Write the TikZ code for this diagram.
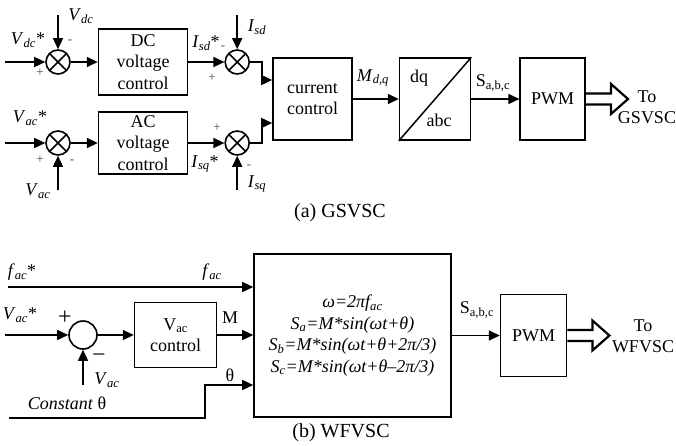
\documentclass[tikz,border=0pt]{standalone}
\usepackage{fontspec}
\setmainfont{Liberation Serif}
\usetikzlibrary{positioning,arrows.meta,calc}
\newcommand{\isub}[2]{\textit{#1}\textsubscript{\textit{#2}}}
\tikzset{
  >={Triangle[length=11pt,width=10pt]},
  every node/.style={font=\fontsize{18}{21.5}\selectfont, inner sep=0pt},
  blk/.style={draw, line width=1.6pt, align=center},
  sumx/.style={draw, circle, line width=1.6pt, minimum size=24pt,
    path picture={\draw[line width=1.5pt] (path picture bounding box.north west) -- (path picture bounding box.south east)
      (path picture bounding box.south west) -- (path picture bounding box.north east);}},
  sumo/.style={draw, circle, line width=1.6pt, minimum size=28pt},
  flow/.style={->, line width=1.5pt},
  sgn/.style={font=\fontsize{13}{13}\selectfont, text=black!70},
  bigsgn/.style={font=\fontsize{24}{24}\selectfont},
  fat/.style={line width=2.2pt, line join=miter},
  capt/.style={font=\fontsize{20}{24}\selectfont},
}

\begin{document}
\begin{tikzpicture}[x=1pt,y=-1pt]
  \useasboundingbox (0,0) rectangle (676,445);

  % (a) GSVSC
  \node[sumx] (s1) at (58,62) {};
  \node[blk, right=27pt of s1, minimum width=89pt, minimum height=66pt] (dcv) {DC\\voltage\\control};
  \node[sumx, right=36pt of dcv] (s2) {};
  \node[sumx] (s3) at (58,143) {};
  \node[blk, right=27pt of s3, minimum width=89pt, minimum height=62pt] (acv) {AC\\voltage\\control};
  \node[sumx, right=36pt of acv] (s4) {};
  \node[blk, minimum width=79pt, minimum height=82pt] (cur) at (312.5,99) {current\\control};
  \node[blk, right=46pt of cur, minimum width=71pt, minimum height=82pt] (dq) {};
  \node[blk, right=48pt of dq, minimum width=65pt, minimum height=82pt] (pwm1) {PWM};
  \node[align=center] (to1) at (647,107) {To\\GSVSC};

  \coordinate (vdcin) at (5,62);
  \coordinate (vdcfb) at ($(s1)+(0,-47)$);
  \coordinate (isdfb) at ($(s2)+(0,-47)$);
  \coordinate (vacin) at (5,143);
  \coordinate (vacfb) at ($(s3)+(0,47)$);
  \coordinate (isqfb) at ($(s4)+(0,47)$);

  \draw[flow] (vdcin) -- (s1);
  \draw[flow] (vdcfb) -- (s1);
  \draw[flow] (s1) -- (dcv);
  \draw[flow] (dcv) -- (s2);
  \draw[flow] (isdfb) -- (s2);
  \draw[flow] (vacin) -- (s3);
  \draw[flow] (vacfb) -- (s3);
  \draw[flow] (s3) -- (acv);
  \draw[flow] (acv) -- (s4);
  \draw[flow] (isqfb) -- (s4);
  \draw[flow] (s2.east) -- ++(12,0) |- ($(cur.west)+(0,-19)$);
  \draw[flow] (s4.east) -- ++(12,0) |- ($(cur.west)+(0,24)$);
  \draw[flow] (cur) -- (dq);
  \draw[flow] (dq) -- (pwm1);
  \draw[line width=1.5pt] (dq.south west) -- (dq.north east);
  \draw[fat] ($(pwm1.east)+(0,-5.5)$) -- ++(25,0) -- ++(0,-9.5) -- ++(17,15) -- ++(-17,15) -- ++(0,-9.5) -- ++(-25,0);

  \node (l1) at (28,40) {\isub{V}{dc}*};
  \node (l2) at (81,16) {\isub{V}{dc}};
  \node[sgn] at (70,42) {-};
  \node[sgn] at (40,73) {+};
  \node (l3) at (206,43) {\isub{I}{sd}*};
  \node (l4) at (257,27) {\isub{I}{sd}};
  \node[sgn] at (223,48) {-};
  \node[sgn] at (212,78) {+};
  \node (l5) at (30,118) {\isub{V}{ac}*};
  \node (l6) at (38,191) {\isub{V}{ac}};
  \node[sgn] at (40,160) {+};
  \node[sgn] at (72,162) {-};
  \node (l7) at (205,164) {\isub{I}{sq}*};
  \node (l8) at (257,184) {\isub{I}{sq}};
  \node[sgn] at (217,128) {+};
  \node[sgn] at (249,167) {-};
  \node (l9) at (373,78) {\isub{M}{d,q}};
  \node at ($(dq.center)+(-16,-21)$) {dq};
  \node at ($(dq.center)+(4,21)$) {abc};
  \node (l10) at (493,83) {S\textsubscript{a,b,c}};
  \node[capt] (capa) at (340,213) {(a) GSVSC};

  % (b) WFVSC
  \node[sumo] (s5) at (83,335) {};
  \node[blk, right=36pt of s5, minimum width=82pt, minimum height=65pt] (vacc) {V\textsubscript{ac}\\control};
  \node[blk, minimum width=197pt, minimum height=163pt, font=\fontsize{18}{21.5}\selectfont\itshape] (gen) at (352.5,335.5)
    {ω=2πf\textsubscript{ac}\\S\textsubscript{a}=M*sin(ωt+θ)\\S\textsubscript{b}=M*sin(ωt+θ+2π/3)\\S\textsubscript{c}=M*sin(ωt+θ–2π/3)};
  \node[blk, right=48pt of gen, minimum width=66pt, minimum height=82pt] (pwm2) {PWM};
  \node[align=center] (to2) at (643,336) {To\\WFVSC};

  \coordinate (facin) at (8,287);
  \coordinate (vrefin) at (5,335);
  \coordinate (vacfb2) at ($(s5)+(0,50)$);
  \coordinate (thin) at (9,418);

  \draw[flow] (facin) -- (facin -| gen.west);
  \draw[flow] (vrefin) -- (s5);
  \draw[flow] (vacfb2) -- (s5);
  \draw[flow] (s5) -- (vacc);
  \draw[flow] (vacc) -- (vacc -| gen.west);
  \draw[flow] (thin) -- ++(196,0) |- ($(gen.west)+(0,49.5)$);
  \draw[flow] (gen) -- (pwm2);
  \draw[fat] ($(pwm2.east)+(0,-5.5)$) -- ++(25,0) -- ++(0,-9.5) -- ++(17,15) -- ++(-17,15) -- ++(0,-9.5) -- ++(-25,0);

  \node (l11) at (22,272) {\isub{f}{ac}*};
  \node (l12) at (212,272) {\isub{f}{ac}};
  \node (l13) at (20,315) {\isub{V}{ac}*};
  \node[bigsgn] at (65,318) {+};
  \node[bigsgn] at (99,358) {−};
  \node (l14) at (107,380) {\isub{V}{ac}};
  \node (l15) at (230,318) {M};
  \node (l16) at (230,375) {θ};
  \node (l17) at (67,403) {\textit{Constant} θ};
  \node (l18) at (477,310) {S\textsubscript{a,b,c}};
  \node[capt] (capb) at (341,433) {(b) WFVSC};
\end{tikzpicture}
\end{document}
